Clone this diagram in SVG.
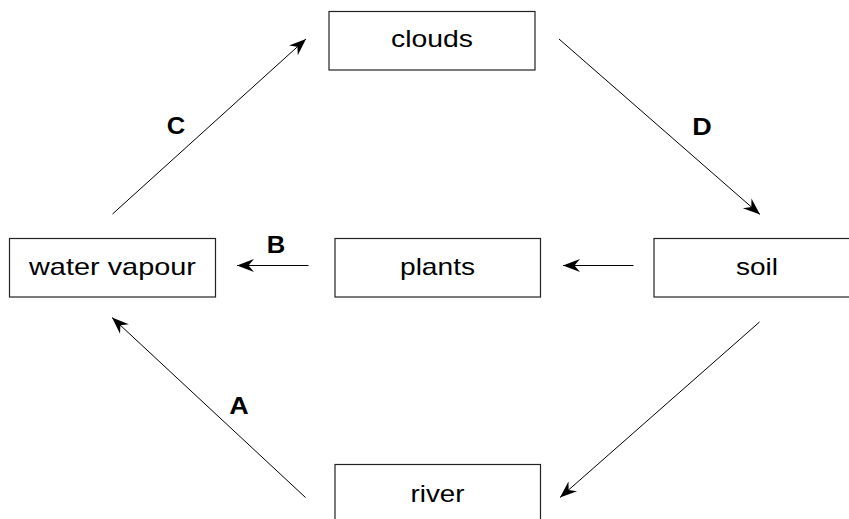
<svg xmlns="http://www.w3.org/2000/svg" width="849" height="519" viewBox="0 0 849 519">
  <style>
    .box { fill: #ffffff; stroke: #222222; stroke-width: 1.2; }
    .label { font-family: "Liberation Sans", Arial, sans-serif; font-size: 24px; fill: #000000; text-anchor: middle; }
    .tag { font-family: "Liberation Sans", Arial, sans-serif; font-size: 24px; font-weight: bold; fill: #000000; text-anchor: middle; }
    .edge { stroke: #000000; stroke-width: 1; fill: none; marker-end: url(#head); }
  </style>
  <defs>
    <marker id="head" markerUnits="userSpaceOnUse" viewBox="-18 -8 20 16" refX="0" refY="0" markerWidth="20" markerHeight="16" orient="auto">
      <path d="M0,0 L-17,-6.5 L-11.5,0 L-17,6.5 Z" fill="#000000"/>
    </marker>
  </defs>

  <rect width="849" height="519" fill="#ffffff"/>

  <g id="clouds">
    <rect class="box" x="329" y="11.5" width="206" height="58.5"/>
    <text class="label" x="432" y="47" textLength="82" lengthAdjust="spacingAndGlyphs">clouds</text>
  </g>
  <g id="water-vapour">
    <rect class="box" x="9.5" y="238.5" width="206" height="58.5"/>
    <text class="label" x="112.5" y="274.5" textLength="167" lengthAdjust="spacingAndGlyphs">water vapour</text>
  </g>
  <g id="plants">
    <rect class="box" x="335" y="238.5" width="205.5" height="58.5"/>
    <text class="label" x="437.5" y="274.5" textLength="75" lengthAdjust="spacingAndGlyphs">plants</text>
  </g>
  <g id="soil">
    <rect class="box" x="654" y="238.5" width="206" height="58.5"/>
    <text class="label" x="757" y="274.5" textLength="42" lengthAdjust="spacingAndGlyphs">soil</text>
  </g>
  <g id="river">
    <rect class="box" x="335" y="464.5" width="205.5" height="60"/>
    <text class="label" x="437.5" y="502" textLength="54" lengthAdjust="spacingAndGlyphs">river</text>
  </g>

  <g id="connectors">
    <line class="edge" x1="112.5" y1="214" x2="306" y2="39"/>
    <line class="edge" x1="559" y1="39" x2="760" y2="214.5"/>
    <line class="edge" x1="308.5" y1="265.5" x2="237" y2="265.5"/>
    <line class="edge" x1="633.5" y1="265.5" x2="563" y2="265.5"/>
    <line class="edge" x1="305.5" y1="497.5" x2="112" y2="317.5"/>
    <line class="edge" x1="759.5" y1="322" x2="560" y2="497.5"/>
  </g>

  <g id="edge-labels">
    <text class="tag" x="176" y="133.5" textLength="18.5" lengthAdjust="spacingAndGlyphs">C</text>
    <text class="tag" x="702" y="135" textLength="19.5" lengthAdjust="spacingAndGlyphs">D</text>
    <text class="tag" x="276" y="253" textLength="18.5" lengthAdjust="spacingAndGlyphs">B</text>
    <text class="tag" x="239" y="413.5" textLength="19.5" lengthAdjust="spacingAndGlyphs">A</text>
  </g>
</svg>
